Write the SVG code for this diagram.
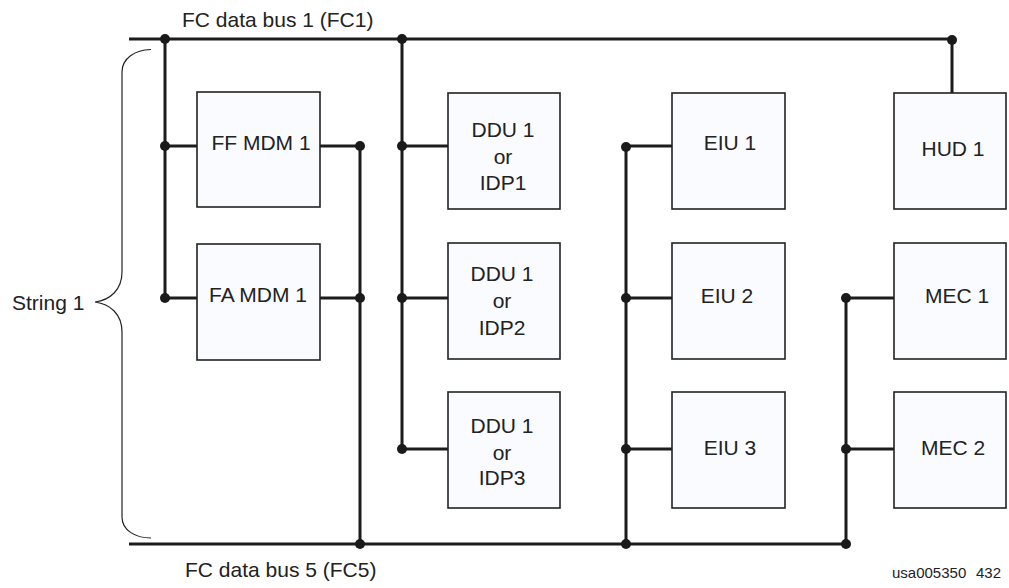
<svg xmlns="http://www.w3.org/2000/svg" width="1009" height="588" viewBox="0 0 1009 588">
<style>
.box{fill:#f9fbfe;stroke:#222;stroke-width:1.6}
.w{stroke:#1c1c1c;stroke-width:3;fill:none}
.d{fill:#1a1a1a}
.t{font-family:"Liberation Sans",Arial,sans-serif;font-size:21px;fill:#222;text-anchor:middle}
.l{font-family:"Liberation Sans",Arial,sans-serif;font-size:21px;fill:#222}
</style>
<rect width="1009" height="588" fill="#fff"/>
<g id="connectors">
<path class="w" d="M129,39 H952 M129,544 H846"/>
<path class="w" d="M165,39 V298 M165,146 H197 M165,298 H197"/>
<path class="w" d="M320,146 H360 V544 M320,298 H360"/>
<path class="w" d="M402,39 V449 M402,146 H448 M402,298 H448 M402,449 H448"/>
<path class="w" d="M626,147 V544 M626,146 H672 M626,298 H672 M626,449 H672"/>
<path class="w" d="M846,298 V544 M846,298 H894 M846,449 H894"/>
<path class="w" d="M952,40 V93"/>
<g class="d">
<circle cx="165" cy="39" r="5"/><circle cx="402" cy="39" r="5"/><circle cx="952" cy="40" r="5"/>
<circle cx="165" cy="146" r="5"/><circle cx="165" cy="298" r="5"/>
<circle cx="360" cy="146" r="5"/><circle cx="360" cy="298" r="5"/><circle cx="360" cy="544" r="5"/>
<circle cx="402" cy="146" r="5"/><circle cx="402" cy="298" r="5"/><circle cx="402" cy="449" r="5"/>
<circle cx="626" cy="147" r="5"/><circle cx="626" cy="298" r="5"/><circle cx="626" cy="449" r="5"/><circle cx="626" cy="544" r="5"/>
<circle cx="846" cy="298" r="5"/><circle cx="846" cy="449" r="5"/><circle cx="846" cy="544" r="5"/>
</g>
</g>
<g id="string1">
<path d="M151,49.5 C135,50 122,58 122,72 L122,272 C122,290 110,300 95,302 C110,304 122,314 122,332 L122,517 C122,530 135,538 151,538" fill="none" stroke="#222" stroke-width="1.2"/>
<text class="l" x="12" y="310">String 1</text>
</g>
<g id="ffmdm1"><rect class="box" x="197" y="92" width="123" height="115"/><text class="t" x="261" y="150">FF MDM 1</text></g>
<g id="famdm1"><rect class="box" x="197" y="244" width="123" height="116"/><text class="t" x="258" y="302">FA MDM 1</text></g>
<g id="ddu1"><rect class="box" x="448" y="93" width="112" height="116"/><text class="t" x="503"><tspan x="503" y="137">DDU 1</tspan><tspan x="503" y="164">or</tspan><tspan x="503" y="190">IDP1</tspan></text></g>
<g id="ddu2"><rect class="box" x="448" y="243" width="112" height="116"/><text class="t" x="502"><tspan x="502" y="281">DDU 1</tspan><tspan x="502" y="308">or</tspan><tspan x="502" y="335">IDP2</tspan></text></g>
<g id="ddu3"><rect class="box" x="448" y="392" width="112" height="116"/><text class="t" x="502"><tspan x="502" y="433">DDU 1</tspan><tspan x="502" y="460">or</tspan><tspan x="502" y="485">IDP3</tspan></text></g>
<g id="eiu1"><rect class="box" x="672" y="93" width="113" height="116"/><text class="t" x="730" y="150">EIU 1</text></g>
<g id="eiu2"><rect class="box" x="672" y="243" width="113" height="116"/><text class="t" x="727" y="303">EIU 2</text></g>
<g id="eiu3"><rect class="box" x="672" y="392" width="113" height="116"/><text class="t" x="730" y="455">EIU 3</text></g>
<g id="hud1"><rect class="box" x="894" y="93" width="112" height="116"/><text class="t" x="953" y="156">HUD 1</text></g>
<g id="mec1"><rect class="box" x="894" y="243" width="112" height="116"/><text class="t" x="957" y="303">MEC 1</text></g>
<g id="mec2"><rect class="box" x="894" y="392" width="112" height="116"/><text class="t" x="953" y="455">MEC 2</text></g>
<g id="labels">
<text class="l" x="182" y="27">FC data bus 1 (FC1)</text>
<text class="l" x="185" y="577">FC data bus 5 (FC5)</text>
<text class="l" x="892" y="578" style="font-size:15px"><tspan x="892">usa005350</tspan><tspan x="976">432</tspan></text>
</g>
</svg>
